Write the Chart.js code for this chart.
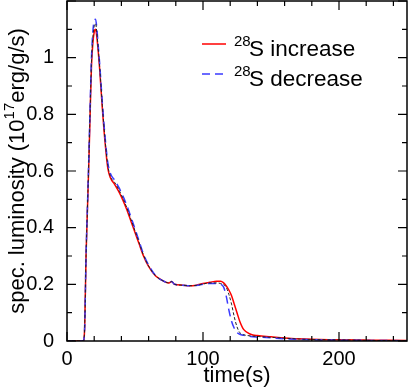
<!DOCTYPE html>
<html>
<head>
<meta charset="utf-8">
<script src="https://cdn.jsdelivr.net/npm/chart.js@4"></script>
<style>
  html, body { margin: 0; padding: 0; background: #fff; }
  #wrap { width: 409px; height: 388px; }
</style>
</head>
<body>
<div id="wrap"><canvas id="lumChart"></canvas></div>
<script>
// time in seconds
var time = [0, 12, 13, 14, 15, 16, 17, 18, 19, 20, 21, 22, 23, 24, 26, 28, 30, 32, 35, 38, 41, 44, 47, 50, 53, 56, 60, 65, 70, 75, 77, 79, 85, 90, 95, 100, 105, 110, 113, 115, 117, 119, 121, 123, 125, 127, 130, 135, 140, 150, 160, 175, 200, 225, 250];

// spec. luminosity, 10^17 erg/g/s
var increase = [0, 0, 0.05, 0.3, 0.46, 0.62, 0.8, 0.97, 1.05, 1.09, 1.1, 1.07, 1.02, 0.96, 0.82, 0.7, 0.61, 0.575, 0.553, 0.528, 0.498, 0.463, 0.423, 0.383, 0.343, 0.303, 0.263, 0.23, 0.214, 0.205, 0.21, 0.2, 0.197, 0.195, 0.197, 0.203, 0.207, 0.211, 0.211, 0.206, 0.195, 0.18, 0.16, 0.13, 0.1, 0.07, 0.04, 0.024, 0.019, 0.015, 0.011, 0.007, 0.004, 0.003, 0.002];
var decrease = [0, 0, 0.05, 0.3, 0.47, 0.64, 0.83, 1.0, 1.09, 1.13, 1.136, 1.1, 1.04, 0.98, 0.84, 0.72, 0.63, 0.59, 0.568, 0.543, 0.513, 0.478, 0.438, 0.396, 0.353, 0.31, 0.268, 0.232, 0.214, 0.205, 0.21, 0.2, 0.197, 0.195, 0.196, 0.2, 0.203, 0.203, 0.2, 0.192, 0.16, 0.11, 0.07, 0.045, 0.03, 0.024, 0.02, 0.016, 0.014, 0.011, 0.008, 0.005, 0.003, 0.002, 0.001];
var reference = [0, 0, 0.05, 0.3, 0.465, 0.63, 0.815, 0.985, 1.07, 1.11, 1.12, 1.085, 1.03, 0.97, 0.83, 0.71, 0.62, 0.58, 0.56, 0.535, 0.505, 0.47, 0.43, 0.389, 0.348, 0.306, 0.265, 0.231, 0.214, 0.205, 0.21, 0.2, 0.197, 0.195, 0.196, 0.201, 0.205, 0.205, 0.203, 0.2, 0.19, 0.165, 0.13, 0.085, 0.05, 0.03, 0.022, 0.018, 0.016, 0.013, 0.01, 0.006, 0.004, 0.002, 0.001];

var xTicks = [0, 100, 200];
var yTicks = [0, 0.2, 0.4, 0.6, 0.8, 1];

var FONT = "'Liberation Sans', Arial, sans-serif";

function pts(arr){
    var out = [];
    for(var i = 0; i < time.length; i++){
        out.push({x: time[i], y: arr[i]});
    }
    return out;
}

function noPad(s){
    s.paddingTop = 0; s.paddingBottom = 0;
    s.paddingLeft = 0; s.paddingRight = 0;
}

// frame, inward ticks, legend and axis titles
var decorations = {
    id: 'decorations',
    afterDraw: function(chart){
        var ctx = chart.ctx;
        var a = chart.chartArea;
        var xs = chart.scales.x, ys = chart.scales.y;
        ctx.save();
        ctx.strokeStyle = '#000';
        ctx.lineWidth = 1.5;
        ctx.strokeRect(a.left, a.top, a.right - a.left, a.bottom - a.top);

        ctx.lineWidth = 1.2;
        ctx.beginPath();
        for(var t = 0; t <= 250; t += 20){
            var px = xs.getPixelForValue(t);
            var len = (t % 100 == 0) ? 9 : 5;
            ctx.moveTo(px, a.bottom); ctx.lineTo(px, a.bottom - len);
            ctx.moveTo(px, a.top); ctx.lineTo(px, a.top + len);
        }
        for(var k = 0; k <= 12; k++){
            var py = ys.getPixelForValue(k / 10);
            var l2 = (k % 2 == 0) ? 9 : 5;
            ctx.moveTo(a.left, py); ctx.lineTo(a.left + l2, py);
            ctx.moveTo(a.right, py); ctx.lineTo(a.right - l2, py);
        }
        ctx.stroke();

        // legend
        var rows = [
            {y: 44, color: '#ff0000', dash: [], text: 'S increase'},
            {y: 74, color: '#3a3aff', dash: [8, 5], text: 'S decrease'}
        ];
        rows.forEach(function(r){
            ctx.strokeStyle = r.color;
            ctx.lineWidth = 1.5;
            ctx.setLineDash(r.dash);
            ctx.beginPath();
            ctx.moveTo(202, r.y); ctx.lineTo(226, r.y);
            ctx.stroke();
            ctx.setLineDash([]);
            ctx.fillStyle = '#000';
            ctx.textBaseline = 'alphabetic';
            ctx.textAlign = 'left';
            ctx.font = '15px ' + FONT;
            ctx.fillText('28', 234, r.y + 2);
            ctx.font = '22.5px ' + FONT;
            ctx.fillText(r.text, 249, r.y + 12);
        });

        // y title with superscript
        ctx.translate(24, (a.top + a.bottom) / 2);
        ctx.rotate(-Math.PI / 2);
        var p1 = 'spec. luminosity (10', sup = '17', p2 = 'erg/g/s)';
        ctx.font = '22px ' + FONT;
        var w1 = ctx.measureText(p1).width, w3 = ctx.measureText(p2).width;
        ctx.font = '15px ' + FONT;
        var w2 = ctx.measureText(sup).width;
        var x0 = -(w1 + w2 + w3) / 2;
        ctx.fillStyle = '#000';
        ctx.font = '22px ' + FONT;
        ctx.fillText(p1, x0, 0);
        ctx.font = '15px ' + FONT;
        ctx.fillText(sup, x0 + w1, -10);
        ctx.font = '22px ' + FONT;
        ctx.fillText(p2, x0 + w1 + w2, 0);
        ctx.restore();

        // x title
        ctx.save();
        ctx.font = '22px ' + FONT;
        ctx.fillStyle = '#000';
        ctx.textAlign = 'center';
        ctx.textBaseline = 'middle';
        ctx.fillText('time(s)', (a.left + a.right) / 2, 376);
        ctx.restore();
    }
};

var config = {
    type: 'line',
    data: {
        datasets: [
            {label: 'reference', data: pts(reference), borderColor: '#222', borderWidth: 1, borderDash: [3, 2]},
            {label: '28S decrease', data: pts(decrease), borderColor: '#3a3aff', borderWidth: 1.5, borderDash: [8, 5]},
            {label: '28S increase', data: pts(increase), borderColor: '#ff0000', borderWidth: 1.5}
        ]
    },
    options: {
        animation: false,
        responsive: true,
        maintainAspectRatio: false,
        cubicInterpolationMode: 'monotone',
        elements: { point: { radius: 0 } },
        layout: { padding: { left: 0, right: 2, top: 1, bottom: 0 } },
        plugins: { legend: { display: false }, tooltip: { enabled: false } },
        scales: {
            x: {
                type: 'linear', min: 0, max: 250,
                grid: { display: false },
                border: { display: false },
                afterBuildTicks: function(s){ s.ticks = xTicks.map(function(v){ return {value: v}; }); },
                afterFit: function(s){ s.height = 47; noPad(s); },
                ticks: { color: '#000', padding: -2, maxRotation: 0, font: { family: FONT, size: 20 },
                         callback: function(v){ return String(v); } }
            },
            y: {
                min: 0, max: 1.2,
                grid: { display: false },
                border: { display: false },
                afterBuildTicks: function(s){ s.ticks = yTicks.map(function(v){ return {value: v}; }); },
                afterFit: function(s){ s.width = 67; noPad(s); },
                ticks: { color: '#000', padding: 5, font: { family: FONT, size: 20 },
                         callback: function(v){ return String(Math.round(v * 10) / 10); } }
            }
        }
    },
    plugins: [decorations]
};

new Chart(document.getElementById('lumChart'), config);
</script>
</body>
</html>
